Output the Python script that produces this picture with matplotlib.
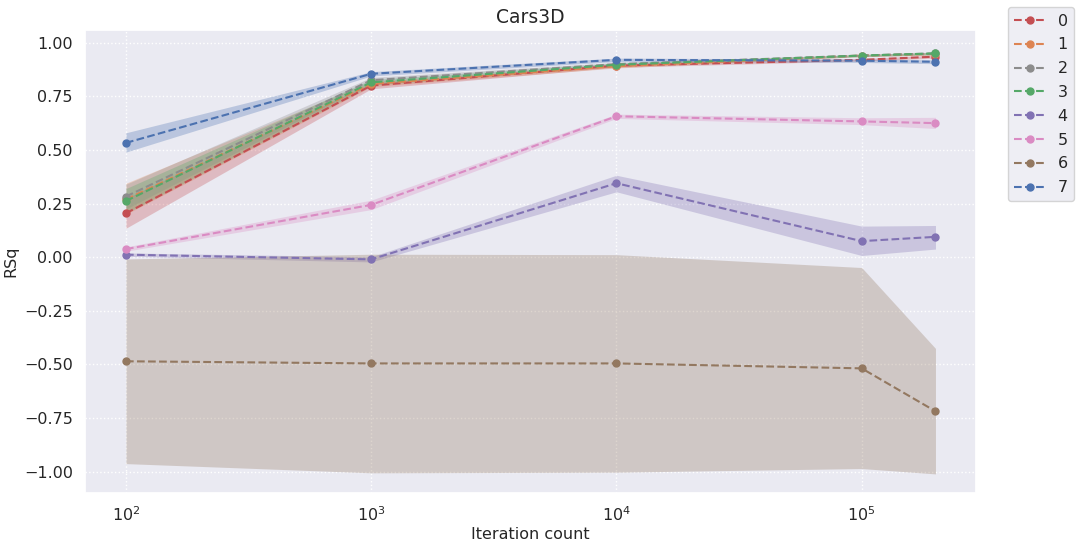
import matplotlib
matplotlib.use("Agg")
import matplotlib.pyplot as plt
import seaborn as sns
import numpy as np

sns.set_theme(style="darkgrid")

iterations = [100, 1000, 10000, 100000, 200000]
series_names = ["0", "1", "2", "3", "4", "5", "6", "7"]

rsq_0 = [0.205, 0.800, 0.893, 0.920, 0.935]
rsq_1 = [0.270, 0.808, 0.890, 0.940, 0.948]
rsq_2 = [0.283, 0.825, 0.900, 0.940, 0.950]
rsq_3 = [0.262, 0.815, 0.897, 0.940, 0.950]
rsq_4 = [0.012, -0.010, 0.345, 0.075, 0.095]
rsq_5 = [0.038, 0.244, 0.657, 0.633, 0.625]
rsq_6 = [-0.485, -0.495, -0.495, -0.518, -0.718]
rsq_7 = [0.533, 0.855, 0.920, 0.916, 0.911]

low_0 = [0.135, 0.785, 0.885, 0.915, 0.928]
high_0 = [0.275, 0.812, 0.900, 0.926, 0.942]
low_1 = [0.200, 0.795, 0.882, 0.935, 0.942]
high_1 = [0.345, 0.820, 0.898, 0.945, 0.954]
low_2 = [0.225, 0.812, 0.892, 0.935, 0.944]
high_2 = [0.340, 0.838, 0.908, 0.945, 0.956]
low_3 = [0.205, 0.802, 0.890, 0.935, 0.944]
high_3 = [0.320, 0.828, 0.905, 0.945, 0.956]
low_4 = [0.004, -0.022, 0.305, 0.008, 0.038]
high_4 = [0.020, 0.002, 0.382, 0.145, 0.148]
low_5 = [0.028, 0.222, 0.647, 0.618, 0.600]
high_5 = [0.048, 0.266, 0.667, 0.650, 0.652]
low_6 = [-0.962, -1.005, -1.002, -0.985, -1.010]
high_6 = [-0.008, 0.014, 0.012, -0.048, -0.425]
low_7 = [0.490, 0.845, 0.912, 0.908, 0.902]
high_7 = [0.580, 0.865, 0.928, 0.924, 0.920]

means = [rsq_0, rsq_1, rsq_2, rsq_3, rsq_4, rsq_5, rsq_6, rsq_7]
lows = [low_0, low_1, low_2, low_3, low_4, low_5, low_6, low_7]
highs = [high_0, high_1, high_2, high_3, high_4, high_5, high_6, high_7]

deep = sns.color_palette("deep")
colors = [deep[3], deep[1], deep[7], deep[2], deep[4], deep[6], deep[5], deep[0]]

fig, ax = plt.subplots(figsize=(10.82, 5.42), dpi=100)

for name, m, lo, hi, c in zip(series_names, means, lows, highs, colors):
    ax.plot(iterations, m, linestyle="--", marker="o", markersize=5, color=c, label=name)
    ax.fill_between(iterations, lo, hi, color=c, alpha=0.3, linewidth=0)

ax.set_xscale("log")
ax.set_ylim(-1.1, 1.06)
ax.set_yticks(np.arange(-1.0, 1.01, 0.25))
ax.grid(True, which="major", linestyle=":", color="white", linewidth=1)
ax.set_title("Cars3D", fontsize=13.5, pad=5)
ax.set_xlabel("Iteration count", fontsize=11.5, labelpad=2)
ax.set_ylabel("RSq", fontsize=11.5, labelpad=4)
ax.tick_params(labelsize=11.5, pad=3)
ax.legend(loc="upper left", bbox_to_anchor=(1.027, 1.066), fontsize=11.5,
          handlelength=1.9, labelspacing=0.55)

plt.subplots_adjust(left=0.079, right=0.902, top=0.945, bottom=0.09)
plt.savefig("out.png", dpi=100)
